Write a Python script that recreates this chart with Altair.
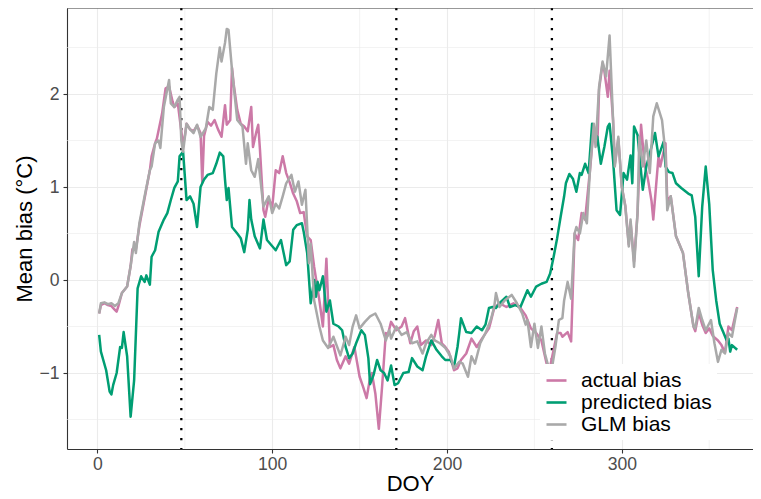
import altair as alt
import pandas as pd

# ---------------- data ----------------
actual_doy = [1, 2, 4, 6, 8, 10, 11, 12, 14, 17, 19, 20, 22, 24, 27, 30, 31, 33, 34, 37, 39, 41, 43, 44,
              46, 47, 48, 49, 50, 51, 53, 55, 57, 59, 60, 61, 63, 65, 67, 69, 71, 73, 74, 76, 77, 78,
              80, 82, 84, 86, 88, 89, 91, 92, 93, 95, 96, 98, 100, 102, 104, 106, 108, 110, 112, 114,
              116, 118, 120, 122, 124, 127, 129, 131, 133, 135, 137, 139, 142, 144, 147, 150, 152, 154,
              156, 157, 159, 161, 163, 165, 166, 168, 171, 174, 176, 179, 181, 183, 185, 188, 191, 193,
              195, 197, 199, 201, 204, 206, 208, 211, 214, 217, 220, 224, 225, 227, 230, 234, 238, 242,
              245, 248, 251, 254, 257, 259, 261, 263, 265, 266, 269, 271, 273, 275, 277, 279, 282, 284,
              286, 287, 289, 290, 292, 293, 295, 296, 298, 300, 302, 304, 305, 307, 309, 311, 313, 315,
              317, 318, 321, 322, 325, 326, 328, 331, 335, 338, 341, 342, 344, 346, 348, 350, 352, 355,
              357, 359, 361, 363, 366]
actual_val = [-0.36, -0.27, -0.25, -0.27, -0.28, -0.32, -0.34, -0.28, -0.14, -0.07, 0.15, 0.33, 0.33, 0.58,
              0.88, 1.18, 1.33, 1.47, 1.52, 1.79, 2.06, 2.08, 1.92, 1.86, 1.90, 1.75, 1.60, 1.45, 1.55, 1.68,
              1.62, 1.60, 1.66, 1.58, 1.05, 1.55, 1.70, 1.66, 1.72, 1.62, 1.54, 1.88, 1.67, 1.72, 2.28, 2.10,
              1.83, 1.68, 1.65, 1.60, 1.86, 1.43, 1.60, 1.67, 1.40, 0.75, 0.68, 0.88, 0.78, 1.18, 1.15, 1.33,
              1.15, 1.05, 0.93, 0.85, 0.72, 0.73, 0.47, 0.43, 0.14, -0.22, -0.50, 0.23, -0.72, -0.70, -0.86,
              -0.95, -0.82, -0.90, -0.72, -1.04, -1.15, -1.27, -1.05, -1.00, -1.22, -1.60, -1.11, -0.57, -0.60,
              -0.45, -0.54, -0.50, -0.41, -0.68, -0.55, -0.50, -0.70, -0.65, -0.70, -0.60, -0.43, -0.68, -0.72,
              -0.77, -0.97, -0.95, -0.86, -0.79, -0.63, -0.72, -0.63, -0.52, -0.45, -0.30, -0.25, -0.29, -0.25,
              -0.30, -0.38, -0.52, -0.57, -0.65, -0.90, -0.93, -0.75, -0.57, -0.57, -0.61, -0.56, -0.66, 0.50,
              0.43, 0.72, 0.65, 1.22, 1.66, 1.45, 2.05, 2.33, 2.25, 1.97, 2.25, 1.72, 1.25, 1.52, 1.00, 0.80,
              0.38, 0.62, 0.20, 0.72, 1.67, 1.25, 1.08, 0.85, 0.65, 1.33, 1.22, 1.47, 0.85, 0.90, 0.47, 0.29,
              -0.14, -0.50, -0.55, -0.35, -0.48, -0.57, -0.52, -0.60, -0.65, -0.70, -0.78, -0.50, -0.54, -0.29]

predicted_doy = [1, 2, 5, 7, 8, 9, 11, 13, 14, 15, 17, 19, 21, 23, 25, 27, 28, 30, 31, 33, 35, 38, 40, 42,
                 44, 46, 47, 49, 51, 53, 55, 57, 59, 61, 63, 66, 68, 70, 72, 73, 74, 75, 77, 80, 82, 84,
                 86, 87, 88, 90, 93, 95, 97, 102, 105, 108, 110, 112, 114, 117, 118, 120, 122, 124, 125,
                 126, 127, 129, 131, 133, 135, 138, 140, 142, 144, 146, 148, 151, 153, 155, 156, 158, 160,
                 162, 164, 166, 168, 170, 172, 175, 178, 180, 183, 186, 188, 191, 194, 197, 199, 202, 204,
                 206, 207, 208, 211, 214, 217, 220, 222, 224, 226, 228, 230, 234, 236, 239, 242, 246, 248,
                 251, 254, 257, 259, 261, 263, 265, 267, 268, 270, 272, 274, 276, 277, 279, 281, 283, 284,
                 286, 288, 290, 292, 293, 295, 297, 299, 301, 303, 305, 306, 307, 309, 312, 314, 316, 319,
                 321, 324, 325, 327, 329, 331, 334, 338, 340, 342, 344, 346, 348, 350, 352, 354, 356, 358,
                 360, 361, 362, 363, 366]
predicted_val = [-0.59, -0.77, -0.97, -1.20, -1.23, -1.13, -1.00, -0.72, -0.73, -0.56, -0.82, -1.47, -1.08,
                 -0.09, 0.04, -0.02, 0.05, -0.05, 0.25, 0.32, 0.52, 0.65, 0.72, 0.86, 0.99, 1.06, 1.33, 1.38,
                 0.86, 0.90, 0.82, 0.57, 1.00, 1.08, 1.13, 1.15, 1.25, 1.37, 1.33, 1.08, 0.86, 0.99, 0.57,
                 0.50, 0.45, 0.30, 0.54, 0.86, 0.65, 0.47, 0.34, 0.65, 0.43, 0.32, 0.43, 0.16, 0.20, 0.54,
                 0.59, 0.61, 0.52, 0.29, -0.25, 0.00, -0.18, -0.02, -0.11, 0.04, -0.34, -0.22, -0.47, -0.50,
                 -0.54, -0.72, -0.84, -0.79, -0.68, -0.54, -0.59, -0.84, -1.12, -1.02, -0.86, -0.97, -1.00,
                 -1.08, -0.92, -1.13, -1.11, -1.00, -0.99, -0.84, -0.93, -0.97, -0.82, -0.65, -0.75, -0.82,
                 -0.86, -0.86, -0.93, -0.72, -0.57, -0.41, -0.56, -0.57, -0.50, -0.54, -0.48, -0.30, -0.29,
                 -0.30, -0.25, -0.18, -0.29, -0.27, -0.29, -0.11, -0.18, -0.07, -0.04, -0.02, 0.07, 0.25,
                 0.45, 0.68, 0.90, 1.04, 1.14, 1.09, 0.95, 1.15, 1.13, 1.25, 1.15, 1.68, 1.58, 1.54, 1.25,
                 1.43, 1.65, 1.68, 1.29, 0.75, 0.70, 1.15, 1.08, 1.34, 1.04, 1.65, 1.56, 0.97, 1.22, 1.36,
                 1.58, 1.33, 1.49, 1.22, 1.16, 1.15, 1.04, 0.99, 0.93, 0.91, 0.68, 0.04, 0.79, 1.22, 0.82,
                 0.11, -0.22, -0.47, -0.56, -0.65, -0.63, -0.77, -0.70, -0.75]

glm_doy = [1, 2, 4, 6, 8, 10, 12, 14, 17, 19, 21, 22, 24, 27, 30, 31, 33, 35, 36, 38, 41, 42, 44, 46, 47,
           48, 49, 51, 53, 55, 57, 59, 61, 62, 64, 66, 68, 70, 71, 73, 74, 75, 77, 80, 83, 85, 86, 88, 90,
           92, 94, 95, 98, 100, 102, 104, 106, 108, 111, 113, 115, 117, 119, 121, 122, 124, 127, 129, 132,
           135, 139, 142, 144, 146, 148, 150, 153, 156, 159, 162, 165, 167, 168, 171, 174, 177, 180, 183,
           186, 188, 191, 193, 196, 199, 202, 204, 207, 209, 212, 214, 216, 219, 222, 225, 227, 228, 230,
           233, 237, 240, 243, 245, 246, 248, 250, 252, 254, 256, 258, 260, 262, 264, 266, 267, 269, 271,
           273, 274, 276, 278, 280, 282, 284, 285, 287, 289, 291, 293, 295, 296, 298, 300, 302, 304, 305,
           307, 309, 310, 312, 314, 316, 318, 320, 323, 325, 326, 328, 331, 335, 338, 341, 342, 344, 346,
           348, 351, 353, 355, 357, 359, 361, 363, 366]
glm_val = [-0.36, -0.25, -0.24, -0.26, -0.25, -0.28, -0.25, -0.14, -0.07, 0.15, 0.41, 0.29, 0.61, 0.90, 1.18,
           1.22, 1.47, 1.50, 1.42, 1.86, 2.15, 1.90, 1.86, 1.94, 1.97, 1.50, 1.38, 1.68, 1.62, 1.58, 1.67,
           1.54, 1.60, 1.63, 1.86, 1.83, 2.22, 2.50, 2.35, 2.55, 2.70, 2.69, 2.26, 1.72, 1.65, 1.25, 1.47,
           1.18, 1.11, 1.30, 0.95, 0.79, 0.90, 0.72, 0.82, 0.77, 0.90, 1.04, 1.13, 0.95, 1.06, 0.81, 0.97,
           0.18, 0.39, -0.22, -0.50, -0.65, -0.73, -0.61, -0.81, -0.61, -0.70, -0.50, -0.38, -0.52, -0.45,
           -0.39, -0.36, -0.47, -0.65, -0.54, -0.63, -0.50, -0.59, -0.56, -0.68, -0.66, -0.79, -0.68, -0.59,
           -0.65, -0.68, -0.73, -0.82, -0.95, -0.88, -0.90, -1.04, -0.82, -0.90, -0.68, -0.57, -0.43, -0.29,
           -0.14, -0.29, -0.22, -0.16, -0.25, -0.36, -0.48, -0.43, -0.72, -0.47, -0.73, -0.50, -0.79, -0.93,
           -0.95, -0.72, -0.43, -0.41, -0.22, -0.02, -0.20, 0.50, 0.57, 0.50, 0.72, 0.61, 1.25, 1.68, 1.43,
           2.08, 2.35, 2.19, 2.63, 1.72, 1.22, 1.54, 1.00, 0.79, 0.36, 0.65, 0.14, 0.72, 1.54, 1.22, 1.50,
           1.15, 1.76, 1.90, 1.72, 1.36, 0.75, 0.90, 0.47, 0.29, -0.14, -0.50, -0.52, -0.30, -0.43, -0.54,
           -0.43, -0.68, -0.88, -0.75, -0.79, -0.57, -0.61, -0.30]

series_names = ["actual bias", "predicted bias", "GLM bias"]
series_colors = ["#CC79A7", "#009E73", "#A9A9A9"]
vline_doy = [48, 171, 260]
x_ticks = [0, 100, 200, 300]
y_ticks = [-1, 0, 1, 2]
x_minor = [50, 150, 250, 350]
y_minor = [-1.5, -0.5, 0.5, 1.5, 2.5]
y_top = [2.925]

# ---------------- tables ----------------
frames = []
for name, d, v in zip(series_names,
                      [actual_doy, predicted_doy, glm_doy],
                      [actual_val, predicted_val, glm_val]):
    frames.append(pd.DataFrame({"doy": d, "bias": v, "series": name}))
df = pd.concat(frames, ignore_index=True)

FONT = "Liberation Sans"
x_scale = alt.Scale(domain=[-17.4, 375.05], nice=False, zero=False)
y_scale = alt.Scale(domain=[-1.817, 2.925], nice=False, zero=False)

x_axis = alt.Axis(values=x_ticks, title="DOY", grid=True, gridColor="#EBEBEB", gridWidth=1.1,
                  domain=True, domainColor="#333333", domainWidth=1.1,
                  ticks=True, tickSize=4, tickColor="#333333", tickWidth=1.1,
                  labelFont=FONT, labelFontSize=17.6, labelColor="#4D4D4D", labelPadding=2,
                  titleFont=FONT, titleFontSize=22, titleFontWeight="normal", titleColor="black",
                  titleBaseline="alphabetic", titleY=41.5)
y_axis = alt.Axis(values=y_ticks, title="Mean bias (°C)", grid=True, gridColor="#EBEBEB", gridWidth=1.1,
                  domain=True, domainColor="#333333", domainWidth=1.1,
                  ticks=True, tickSize=4, tickColor="#333333", tickWidth=1.1,
                  labelFont=FONT, labelFontSize=17.6, labelColor="#4D4D4D", labelPadding=4,
                  titleFont=FONT, titleFontSize=22, titleFontWeight="normal", titleColor="black",
                  titlePadding=2)

minor_x_layer = alt.Chart(pd.DataFrame({"doy": x_minor})).mark_rule(
    color="#EBEBEB", strokeWidth=0.6).encode(x=alt.X("doy:Q", scale=x_scale, axis=x_axis))
minor_y_layer = alt.Chart(pd.DataFrame({"bias": y_minor})).mark_rule(
    color="#EBEBEB", strokeWidth=0.6).encode(y=alt.Y("bias:Q", scale=y_scale, axis=y_axis))

color_enc = alt.Color(
    "series:N",
    scale=alt.Scale(domain=series_names, range=series_colors),
    legend=alt.Legend(title=None, orient="none", legendX=473, legendY=356, fillColor="white",
                      padding=5, symbolType="stroke", symbolSize=400, symbolStrokeWidth=2.6,
                      labelFont=FONT, labelFontSize=21, labelColor="black", labelOffset=13,
                      rowPadding=0, labelLimit=300),
)

line_layers = []
for name in series_names:
    line_layers.append(
        alt.Chart(df).transform_filter(alt.datum.series == name).mark_line(
            strokeWidth=2.5, strokeJoin="round").encode(
            x=alt.X("doy:Q", scale=x_scale, axis=x_axis),
            y=alt.Y("bias:Q", scale=y_scale, axis=y_axis),
            color=color_enc,
            order=alt.Order("doy:Q"),
        )
    )

vline_layer = alt.Chart(pd.DataFrame({"doy": vline_doy})).mark_rule(
    color="black", strokeWidth=2.3, strokeDash=[2.3, 7.7], strokeCap="butt").encode(
    x=alt.X("doy:Q", scale=x_scale, axis=x_axis))

top_border = alt.Chart(pd.DataFrame({"bias": y_top})).mark_rule(
    color="#333333", strokeWidth=1.1).encode(y=alt.Y("bias:Q", scale=y_scale, axis=y_axis))

chart = alt.layer(minor_x_layer, minor_y_layer, vline_layer, *line_layers, top_border).properties(
    width=686, height=441,
    autosize=alt.AutoSizeParams(type="none"),
    padding={"left": 59, "top": 0, "right": 0, "bottom": 42},
    background="white",
).configure_view(stroke="transparent")

chart.save("out.html", embed_options={"renderer": "svg", "actions": False})
